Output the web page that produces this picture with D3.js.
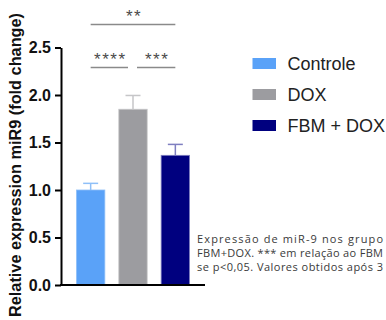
<!DOCTYPE html>
<html>
<head>
<meta charset="utf-8">
<script src="https://cdn.jsdelivr.net/npm/d3@7"></script>
<style>
  body { margin: 0; background: #fff; }
  svg { display: block; }
</style>
</head>
<body>
<svg width="386" height="320"></svg>
<script>
// data
var groups = ["Controle", "DOX", "FBM + DOX"];
var means = [1.0, 1.85, 1.365];
var errors = [0.07, 0.145, 0.115];
var colors = ["#5aa2f8", "#9c9ca0", "#00007f"];
var errColors = ["#8ebff8", "#c6c6c8", "#7f7fc0"];
var yTicks = [0, 0.5, 1.0, 1.5, 2.0, 2.5];
var comparisons = [
  {a: "Controle", b: "FBM + DOX", label: "**", level: 1},
  {a: "Controle", b: "DOX", label: "****", level: 0},
  {a: "DOX", b: "FBM + DOX", label: "***", level: 0}
];
// only the part of the caption that is visible in the crop
var caption = [
  "Expressão de miR-9 nos grupo",
  "FBM+DOX. *** em relação ao FBM",
  "se p<0,05. Valores obtidos após 3"
];

var svg = d3.select("svg");

var x = d3.scaleBand()
    .domain(groups)
    .range([62.5, 203.5])
    .paddingInner(0.33)
    .paddingOuter(0.33);

var y = d3.scaleLinear()
    .domain([0, 2.5])
    .range([285, 47.5]);

var g = svg.append("g");

// bars
g.selectAll(".bar")
    .data(groups)
  .enter().append("rect")
    .attr("x", function(d) { return x(d); })
    .attr("y", function(d, i) { return y(means[i]); })
    .attr("width", x.bandwidth())
    .attr("height", function(d, i) { return y(0) - y(means[i]); })
    .attr("fill", function(d, i) { return colors[i]; })
    .attr("stroke", function(d, i) { return errColors[i]; })
    .attr("stroke-width", 0.8);

// error bars (upper only)
groups.forEach(function(d, i) {
  var cx = x(d) + x.bandwidth() / 2;
  g.append("line")
      .attr("x1", cx).attr("x2", cx)
      .attr("y1", y(means[i])).attr("y2", y(means[i] + errors[i]))
      .attr("stroke", errColors[i]).attr("stroke-width", 1.5);
  g.append("line")
      .attr("x1", cx - 7.5).attr("x2", cx + 7.5)
      .attr("y1", y(means[i] + errors[i])).attr("y2", y(means[i] + errors[i]))
      .attr("stroke", errColors[i]).attr("stroke-width", 1.5);
});

// y axis
var yAxis = g.append("g")
    .attr("transform", "translate(61,0)")
    .call(d3.axisLeft(y).tickValues(yTicks).tickFormat(d3.format(".1f")).tickSize(6).tickSizeOuter(0).tickPadding(4));
yAxis.select(".domain").attr("stroke-width", 2);
yAxis.selectAll(".tick line").attr("stroke-width", 2);
yAxis.selectAll("text")
    .attr("font-family", "Liberation Sans, Arial, sans-serif")
    .attr("font-size", 16)
    .attr("font-weight", "bold")
    .attr("fill", "#111");

// x axis baseline
g.append("line")
    .attr("x1", 60).attr("x2", 205)
    .attr("y1", y(0)).attr("y2", y(0))
    .attr("stroke", "#000").attr("stroke-width", 2);

// y label
svg.append("text")
    .attr("transform", "translate(20.5," + 165 + ") rotate(-90)")
    .attr("text-anchor", "middle")
    .attr("font-family", "Liberation Sans, Arial, sans-serif")
    .attr("font-size", 16.3)
    .attr("font-weight", "bold")
    .attr("fill", "#111")
    .text("Relative expression miR9 (fold change)");

// significance brackets
var levelY = [67.5, 24.5];
comparisons.forEach(function(c) {
  var x1 = x(c.a) + x.bandwidth() / 2,
      x2 = x(c.b) + x.bandwidth() / 2;
  if (c.level === 0 && c.b === "DOX") x2 -= 5;
  if (c.level === 0 && c.a === "DOX") x1 += 4;
  var ly = levelY[c.level];
  g.append("line")
      .attr("x1", x1).attr("x2", x2)
      .attr("y1", ly).attr("y2", ly)
      .attr("stroke", "#8a8a8a").attr("stroke-width", 1.5);
  g.append("text")
      .attr("x", (x1 + x2) / 2 + 1)
      .attr("y", ly - 3)
      .attr("text-anchor", "middle")
      .attr("font-family", "Liberation Sans, Arial, sans-serif")
      .attr("font-size", 17)
      .attr("letter-spacing", 1.5)
      .attr("fill", "#4a4a4a")
      .text(c.label);
});

// legend
var legend = svg.append("g").attr("transform", "translate(252.5,58)");
groups.forEach(function(d, i) {
  var row = legend.append("g").attr("transform", "translate(0," + (i * 31) + ")");
  row.append("rect")
      .attr("width", 23.5).attr("height", 11)
      .attr("fill", colors[i]);
  row.append("text")
      .attr("x", 35).attr("y", 11.5)
      .attr("font-family", "Liberation Sans, Arial, sans-serif")
      .attr("font-size", 18)
      .attr("fill", "#222")
      .text(d);
});

// caption text at right, stretched to the crop edge
svg.append("g").selectAll("text")
    .data(caption)
  .enter().append("text")
    .attr("x", 197)
    .attr("y", function(d, i) { return 243 + i * 14; })
    .attr("font-family", "Open Sans, sans-serif")
    .attr("font-size", 11)
    .attr("textLength", 186)
    .attr("lengthAdjust", "spacing")
    .attr("fill", "#3a3a3a")
    .text(function(d) { return d; });
</script>
</body>
</html>
